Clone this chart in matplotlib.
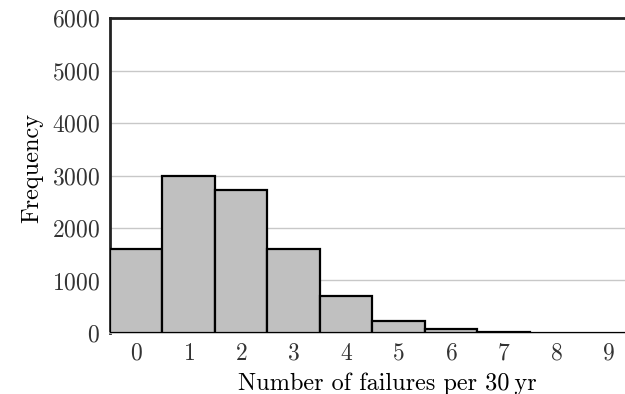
import matplotlib
matplotlib.use("Agg")
import matplotlib.pyplot as plt

# failures per 30 yr and how often each count came up
failures = [0, 1, 2, 3, 4, 5, 6, 7, 8, 9]
frequency = [1600, 3000, 2720, 1600, 710, 230, 80, 15, 2, 0]

plt.rcParams['font.family'] = ['cmr10', 'DejaVu Serif']
plt.rcParams['axes.formatter.use_mathtext'] = True

fig = plt.figure(figsize=(6.25, 3.94), dpi=100)
ax = fig.add_axes([0.176, 0.155, 0.824, 0.799])

ax.bar(failures, frequency, width=1.0, color="#c0c0c0",
       edgecolor="black", linewidth=1.6, zorder=3)

ax.set_xlim(-0.5, 9.31)
ax.set_ylim(0, 6000)
ax.set_yticks(range(0, 7000, 1000))
ax.set_xticks(failures)
ax.grid(axis="y", color="#c8c8c8", linewidth=1.0, zorder=0)
ax.tick_params(length=0, labelsize=17, pad=7, colors="#333333")

for s in ["top", "left"]:
    ax.spines[s].set_linewidth(2.0)
    ax.spines[s].set_color("#222222")
ax.spines["right"].set_visible(False)
ax.spines["bottom"].set_color("#bbbbbb")
ax.spines["bottom"].set_linewidth(1.2)

ax.set_ylabel("Frequency", fontsize=17.5)
ax.set_xlabel("Number of failures per 30\u2009yr", fontsize=17.5)
ax.yaxis.set_label_coords(-0.13, 0.524)
ax.xaxis.set_label_coords(0.538, -0.125)

fig.savefig("out.png", dpi=100)
